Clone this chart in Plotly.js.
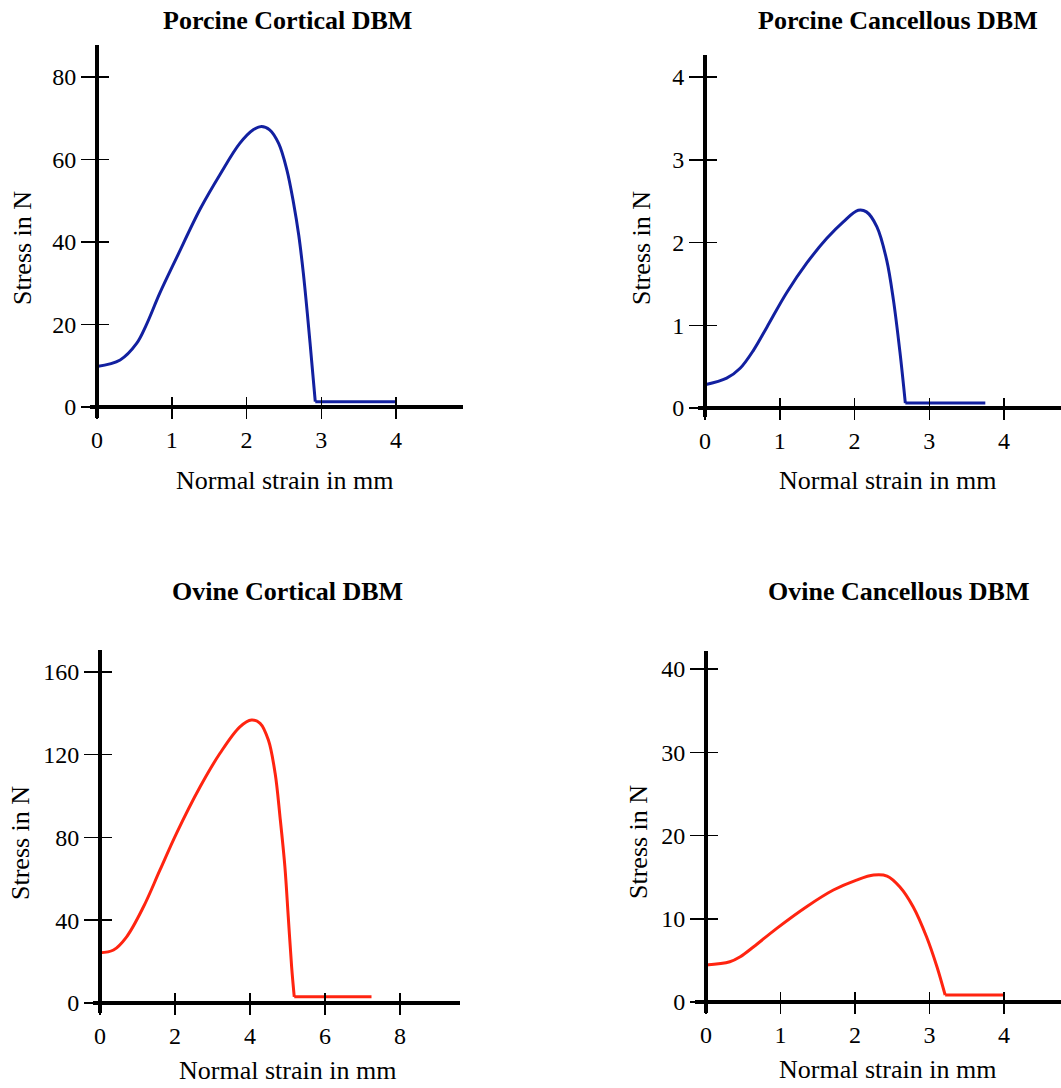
<!DOCTYPE html>
<html><head><meta charset="utf-8">
<script src="https://cdn.plot.ly/plotly-3.0.1.min.js"></script>
<style>html,body{margin:0;padding:0;background:#fff}</style>
</head><body>
<div id="chart" style="width:1061px;height:1088px"></div>
<script>
// ---------- data ----------
const panelTitles = ["Porcine Cortical DBM", "Porcine Cancellous DBM", "Ovine Cortical DBM", "Ovine Cancellous DBM"];
const xTitle = "Normal strain in mm";
const yTitle = "Stress in N";

// Porcine cortical (loading curve, then post-failure plateau)
const porcineCorticalStrain = [0, 0.31, 0.53, 0.66, 0.84, 1.07, 1.38, 1.65, 1.91, 2.09, 2.20, 2.31, 2.43, 2.54, 2.63, 2.70, 2.76, 2.82, 2.87, 2.92];
const porcineCorticalStress = [9.8, 11.4, 15.4, 19.9, 27.6, 36.4, 48.0, 56.5, 63.9, 67.2, 68.0, 67.2, 63.9, 57.5, 49.4, 41.5, 32.5, 21.5, 11.5, 1.3];
const porcineCorticalPlateauStrain = [2.92, 4.0];
const porcineCorticalPlateauStress = [1.3, 1.3];

// Porcine cancellous
const porcineCancellousStrain = [0, 0.29, 0.47, 0.65, 0.83, 1.09, 1.36, 1.63, 1.85, 2.05, 2.16, 2.30, 2.43, 2.52, 2.61, 2.68];
const porcineCancellousStress = [0.28, 0.36, 0.48, 0.70, 0.98, 1.39, 1.75, 2.05, 2.25, 2.39, 2.37, 2.19, 1.79, 1.31, 0.66, 0.06];
const porcineCancellousPlateauStrain = [2.68, 3.75];
const porcineCancellousPlateauStress = [0.06, 0.06];

// Ovine cortical
const ovineCorticalStrain = [0, 0.36, 0.71, 1.16, 1.6, 2.04, 2.67, 3.2, 3.73, 4.04, 4.27, 4.49, 4.67, 4.80, 4.93, 5.02, 5.11, 5.18];
const ovineCorticalStress = [24.3, 25.6, 32.0, 46.5, 64.3, 82.0, 104.5, 120.7, 133.5, 136.8, 135.2, 127.1, 111.0, 90.0, 65.9, 41.7, 17.5, 3.0];
const ovineCorticalPlateauStrain = [5.18, 7.24];
const ovineCorticalPlateauStress = [3.0, 3.0];

// Ovine cancellous
const ovineCancellousStrain = [0, 0.32, 0.46, 0.64, 0.95, 1.35, 1.71, 2.02, 2.25, 2.43, 2.60, 2.78, 2.96, 3.10, 3.21];
const ovineCancellousStress = [4.44, 4.84, 5.44, 6.64, 8.85, 11.45, 13.45, 14.65, 15.25, 15.13, 13.85, 11.45, 7.84, 4.24, 0.84];
const ovineCancellousPlateauStrain = [3.21, 3.99];
const ovineCancellousPlateauStress = [0.84, 0.84];

const xTickStep = [1, 1, 2, 1];
const yTickStep = [20, 1, 40, 10];

// ---------- styling / layout ----------
const W = 1061, H = 1088;
const BLUE = "rgb(18,32,160)", RED = "rgb(255,36,16)";
const FONT = "Liberation Serif, Times New Roman, serif";

const series = [
  {x: porcineCorticalStrain, y: porcineCorticalStress, px: porcineCorticalPlateauStrain, py: porcineCorticalPlateauStress, color: BLUE},
  {x: porcineCancellousStrain, y: porcineCancellousStress, px: porcineCancellousPlateauStrain, py: porcineCancellousPlateauStress, color: BLUE},
  {x: ovineCorticalStrain, y: ovineCorticalStress, px: ovineCorticalPlateauStrain, py: ovineCorticalPlateauStress, color: RED},
  {x: ovineCancellousStrain, y: ovineCancellousStress, px: ovineCancellousPlateauStrain, py: ovineCancellousPlateauStress, color: RED}
];

// panel geometry in pixels: origin, px per unit, plot box
const geom = [
  {ox: 97,  oy: 407,  sx: 74.75, sy: 4.125, l: 90,  r: 463,  t: 45,  b: 418},
  {ox: 705, oy: 408,  sx: 74.75, sy: 82.75, l: 698, r: 1061, t: 55,  b: 417},
  {ox: 100, oy: 1003, sx: 37.5,  sy: 2.069, l: 93,  r: 460,  t: 650, b: 1013},
  {ox: 706, oy: 1002, sx: 74.5,  sy: 8.325, l: 695, r: 1061, t: 651, b: 1013}
];
const titlePos = [[287, 20], [898, 20], [287, 591], [898, 591]];
const xTitlePos = [[284, 480], [887, 480], [287, 1070], [887, 1069]];
const yTitlePos = [[23, 248], [642, 248], [20, 843], [638, 842]];

const px2x = p => p / W;
const py2y = p => 1 - p / H;

const traces = [];
const layout = {
  width: W, height: H,
  margin: {l: 0, r: 0, t: 0, b: 0},
  paper_bgcolor: "#fff", plot_bgcolor: "#fff",
  showlegend: false,
  font: {family: FONT, color: "#000", size: 24},
  annotations: []
};

geom.forEach((g, i) => {
  const n = i + 1, m = i + 5;
  const xid = n === 1 ? "x" : "x" + n, yid = n === 1 ? "y" : "y" + n;
  const xk = n === 1 ? "xaxis" : "xaxis" + n, yk = n === 1 ? "yaxis" : "yaxis" + n;
  const xr = [(g.l - g.ox) / g.sx, (g.r - g.ox) / g.sx];
  const yr = [(g.oy - g.b) / g.sy, (g.oy - g.t) / g.sy];
  const xdom = [px2x(g.l), px2x(g.r)];
  const ydom = [py2y(g.b), py2y(g.t)];
  const common = {showgrid: false, zeroline: false, fixedrange: true};
  layout[xk] = Object.assign({}, common, {
    domain: xdom, range: xr, anchor: "free", position: py2y(g.oy),
    showline: true, linewidth: 4, linecolor: "#000",
    ticks: "outside", ticklen: 10, tickwidth: 1.5, tickcolor: "#000",
    tick0: 0, dtick: xTickStep[i], tickfont: {family: FONT, size: 24, color: "#000"}
  });
  layout[yk] = Object.assign({}, common, {
    domain: ydom, range: yr, anchor: "free", position: px2x(g.ox),
    showline: true, linewidth: 4, linecolor: "#000",
    ticks: "outside", ticklen: 14, tickwidth: 1.5, tickcolor: "#000",
    tick0: 0, dtick: yTickStep[i], tickfont: {family: FONT, size: 24, color: "#000"}
  });
  // overlay axes carrying the inner half of each crossing tick
  layout["xaxis" + m] = Object.assign({}, common, {
    overlaying: xid, range: xr, anchor: "free", position: py2y(g.oy),
    showline: false, ticks: "inside", ticklen: 10, tickwidth: 1.5, tickcolor: "#000",
    tick0: 0, dtick: xTickStep[i], showticklabels: false
  });
  layout["yaxis" + m] = Object.assign({}, common, {
    overlaying: yid, range: yr, anchor: "free", position: px2x(g.ox),
    showline: false, ticks: "inside", ticklen: 11, tickwidth: 1.5, tickcolor: "#000",
    tick0: 0, dtick: yTickStep[i], showticklabels: false
  });

  const s = series[i];
  traces.push({type: "scatter", mode: "lines", x: s.x, y: s.y, xaxis: xid, yaxis: yid,
    line: {color: s.color, width: 3, shape: "spline", smoothing: 1}, hoverinfo: "x+y", cliponaxis: false});
  traces.push({type: "scatter", mode: "lines", x: s.px, y: s.py, xaxis: xid, yaxis: yid,
    line: {color: s.color, width: 3}, hoverinfo: "x+y", cliponaxis: false});
  traces.push({type: "scatter", mode: "lines", x: [], y: [], xaxis: "x" + m, yaxis: "y" + m, hoverinfo: "skip"});

  layout.annotations.push({text: "<b>" + panelTitles[i] + "</b>", xref: "paper", yref: "paper",
    x: px2x(titlePos[i][0]), y: py2y(titlePos[i][1]), xanchor: "center", yanchor: "middle",
    showarrow: false, font: {family: FONT, size: 26, color: "#000"}});
  layout.annotations.push({text: xTitle, xref: "paper", yref: "paper",
    x: px2x(xTitlePos[i][0]), y: py2y(xTitlePos[i][1]), xanchor: "center", yanchor: "middle",
    showarrow: false, font: {family: FONT, size: 26, color: "#000"}});
  layout.annotations.push({text: yTitle, xref: "paper", yref: "paper", textangle: -90,
    x: px2x(yTitlePos[i][0]), y: py2y(yTitlePos[i][1]), xanchor: "center", yanchor: "middle",
    showarrow: false, font: {family: FONT, size: 26, color: "#000"}});
});

Plotly.newPlot("chart", traces, layout, {displayModeBar: false, staticPlot: true});
</script>
</body></html>
